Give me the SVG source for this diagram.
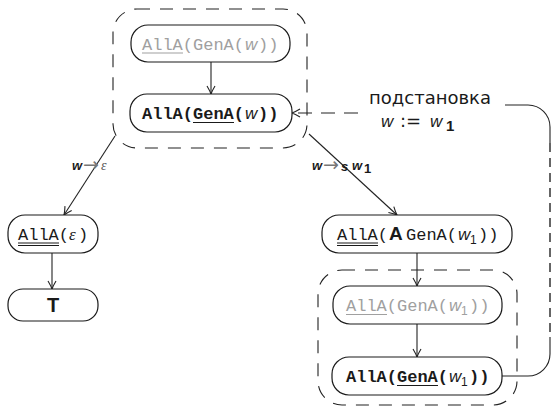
<svg xmlns="http://www.w3.org/2000/svg" width="555" height="411" viewBox="0 0 555 411">
  <style>
    .node rect { fill: #ffffff; stroke: #1a1a1a; stroke-width: 1.2; }
    .tt { font-family: "Liberation Mono", "DejaVu Sans Mono", monospace; font-size: 17px; fill: #1a1a1a; }
    .b { font-weight: bold; }
    .it { font-family: "Liberation Sans", "DejaVu Sans", sans-serif; font-style: italic; font-size: 17px; fill: #1a1a1a; }
    .sub { font-family: "Liberation Sans", "DejaVu Sans", sans-serif; font-size: 12px; fill: #1a1a1a; }
    .sans { font-family: "Liberation Sans", "DejaVu Sans", sans-serif; fill: #1a1a1a; }
    .dv { font-family: "DejaVu Sans", "Liberation Sans", sans-serif; fill: #1a1a1a; }
    .ser { font-family: "Liberation Serif", "DejaVu Serif", serif; font-style: italic; fill: #1a1a1a; }
    .gray, .gray * { fill: #a0a0a0; }
    .ul { stroke: #1a1a1a; stroke-width: 1.1; }
    .ul.g { stroke: #a0a0a0; }
    .edge { fill: none; stroke: #222222; stroke-width: 1.1; }
    .dash { stroke-dasharray: 14 9; }
    .box { fill: none; stroke: #222222; stroke-width: 1.1; stroke-dasharray: 13 10; }
    .lbl { font-family: "Liberation Sans", "DejaVu Sans", sans-serif; font-size: 13px; font-weight: bold; font-style: italic; fill: #1a1a1a; }
    .to { font-family: "DejaVu Sans", sans-serif; font-size: 19px; fill: #777777; }
  </style>
  <defs>
    <marker id="arr" markerUnits="userSpaceOnUse" markerWidth="12" markerHeight="12" viewBox="-9 -6 10 12" refX="0" refY="0" orient="auto">
      <path d="M-8,-4 Q-3,-1 0,0 Q-3,1 -8,4" fill="none" stroke="#222222" stroke-width="1.1"/>
    </marker>
  </defs>

  <!-- grouping frames -->
  <rect class="box" x="113" y="9" width="194" height="139" rx="24"/>
  <rect class="box" x="318" y="270" width="199" height="135" rx="24"/>

  <!-- connectors -->
  <g id="edges">
    <path class="edge" d="M211,62 V94" marker-end="url(#arr)"/>
    <path class="edge" d="M52,253 V289" marker-end="url(#arr)"/>
    <path class="edge" d="M417,253 V286" marker-end="url(#arr)"/>
    <path class="edge" d="M417,324 V357" marker-end="url(#arr)"/>
    <path class="edge" d="M115,136 L64,215" marker-end="url(#arr)"/>
    <path class="edge" d="M309,134 L397,215" marker-end="url(#arr)"/>
    <path class="edge dash" d="M358,113 H292" marker-end="url(#arr)"/>
    <!-- substitution loop back from the lower node -->
    <path class="edge" d="M505,105 H528 A22,22 0 0 1 550,127 V143"/>
    <path class="edge" d="M550,143 V337" style="stroke:#555555;stroke-width:1.8;stroke-dasharray:9 6"/>
    <path class="edge" d="M550,337 V354 A22,22 0 0 1 528,376 H502"/>
  </g>

  <!-- edge labels -->
  <g id="label-eps">
    <text class="lbl" x="72" y="170">w</text>
    <text class="to" x="83" y="171">→</text>
    <text class="ser" x="101" y="170" font-size="14" style="fill:#555555">ε</text>
  </g>
  <g id="label-s">
    <text class="lbl" x="312" y="170">w</text>
    <text class="to" x="323" y="171">→</text>
    <text class="lbl" x="341" y="171">s</text>
    <text class="lbl" x="352" y="170">w</text>
    <text class="sans" x="364" y="173" font-size="13" font-weight="bold">1</text>
  </g>
  <g id="label-subst">
    <text class="dv" x="430" y="104" font-size="18" text-anchor="middle">подстановка</text>
    <text class="it" x="381" y="127" font-size="18">w</text>
    <text class="dv" x="400" y="127" font-size="18">:=</text>
    <text class="it" x="430" y="127" font-size="18">w</text>
    <text class="sans" x="446" y="131" font-size="15" font-weight="bold">1</text>
  </g>

  <!-- AllA(GenA(w)), inactive copy -->
  <g id="n1" class="node">
    <rect x="131" y="25" width="159" height="37" rx="17"/>
    <g class="gray">
      <text class="tt" x="142" y="49.5">AllA(GenA(</text>
      <text class="it" x="245" y="49.5">w</text>
      <text class="tt" x="258" y="49.5">))</text>
    </g>
    <line class="ul g" x1="142" y1="53" x2="183" y2="53"/>
  </g>

  <!-- AllA(GenA(w)), current -->
  <g id="n2" class="node">
    <rect x="130" y="94" width="162" height="38" rx="17"/>
    <text class="tt b" x="142" y="119">AllA(GenA(</text>
    <text class="it" x="245" y="119">w</text>
    <text class="tt b" x="258" y="119">))</text>
    <line class="ul" x1="193" y1="122.5" x2="234" y2="122.5"/>
  </g>

  <!-- AllA(eps) -->
  <g id="n3" class="node">
    <rect x="8" y="215" width="90" height="38" rx="17"/>
    <text class="tt" x="18" y="240">AllA(</text>
    <text class="ser" x="69" y="240" font-size="17">ε</text>
    <text class="tt" x="78" y="240">)</text>
    <line class="ul" x1="18" y1="243" x2="59" y2="243"/>
    <line class="ul" x1="18" y1="245.5" x2="59" y2="245.5"/>
  </g>

  <!-- T -->
  <g id="n4" class="node">
    <rect x="8" y="289" width="90" height="32" rx="15"/>
    <text class="sans" x="53" y="312" font-size="20" font-weight="bold" text-anchor="middle">T</text>
  </g>

  <!-- AllA(A GenA(w1)) -->
  <g id="n5" class="node">
    <rect x="322" y="215" width="190" height="38" rx="17"/>
    <text class="tt" x="337" y="240">AllA(</text>
    <text class="sans" x="389" y="240" font-size="19" font-weight="bold">A</text>
    <text class="tt" x="406" y="240">GenA(</text>
    <text class="it" x="458" y="240">w</text>
    <text class="sub" x="470" y="244">1</text>
    <text class="tt" x="478" y="240">))</text>
    <line class="ul" x1="337" y1="243" x2="378" y2="243"/>
    <line class="ul" x1="337" y1="245.5" x2="378" y2="245.5"/>
  </g>

  <!-- AllA(GenA(w1)), inactive copy -->
  <g id="n6" class="node">
    <rect x="333" y="286" width="169" height="38" rx="17"/>
    <g class="gray">
      <text class="tt" x="346" y="311">AllA(GenA(</text>
      <text class="it" x="449" y="311">w</text>
      <text class="sub" x="461" y="315">1</text>
      <text class="tt" x="469" y="311">))</text>
    </g>
    <line class="ul g" x1="346" y1="314.5" x2="387" y2="314.5"/>
  </g>

  <!-- AllA(GenA(w1)), current -->
  <g id="n7" class="node">
    <rect x="332" y="357" width="170" height="38" rx="17"/>
    <text class="tt b" x="346" y="382">AllA(GenA(</text>
    <text class="it" x="449" y="382">w</text>
    <text class="sub" x="461" y="386">1</text>
    <text class="tt b" x="469" y="382">))</text>
    <line class="ul" x1="397" y1="385.5" x2="438" y2="385.5"/>
  </g>
</svg>
